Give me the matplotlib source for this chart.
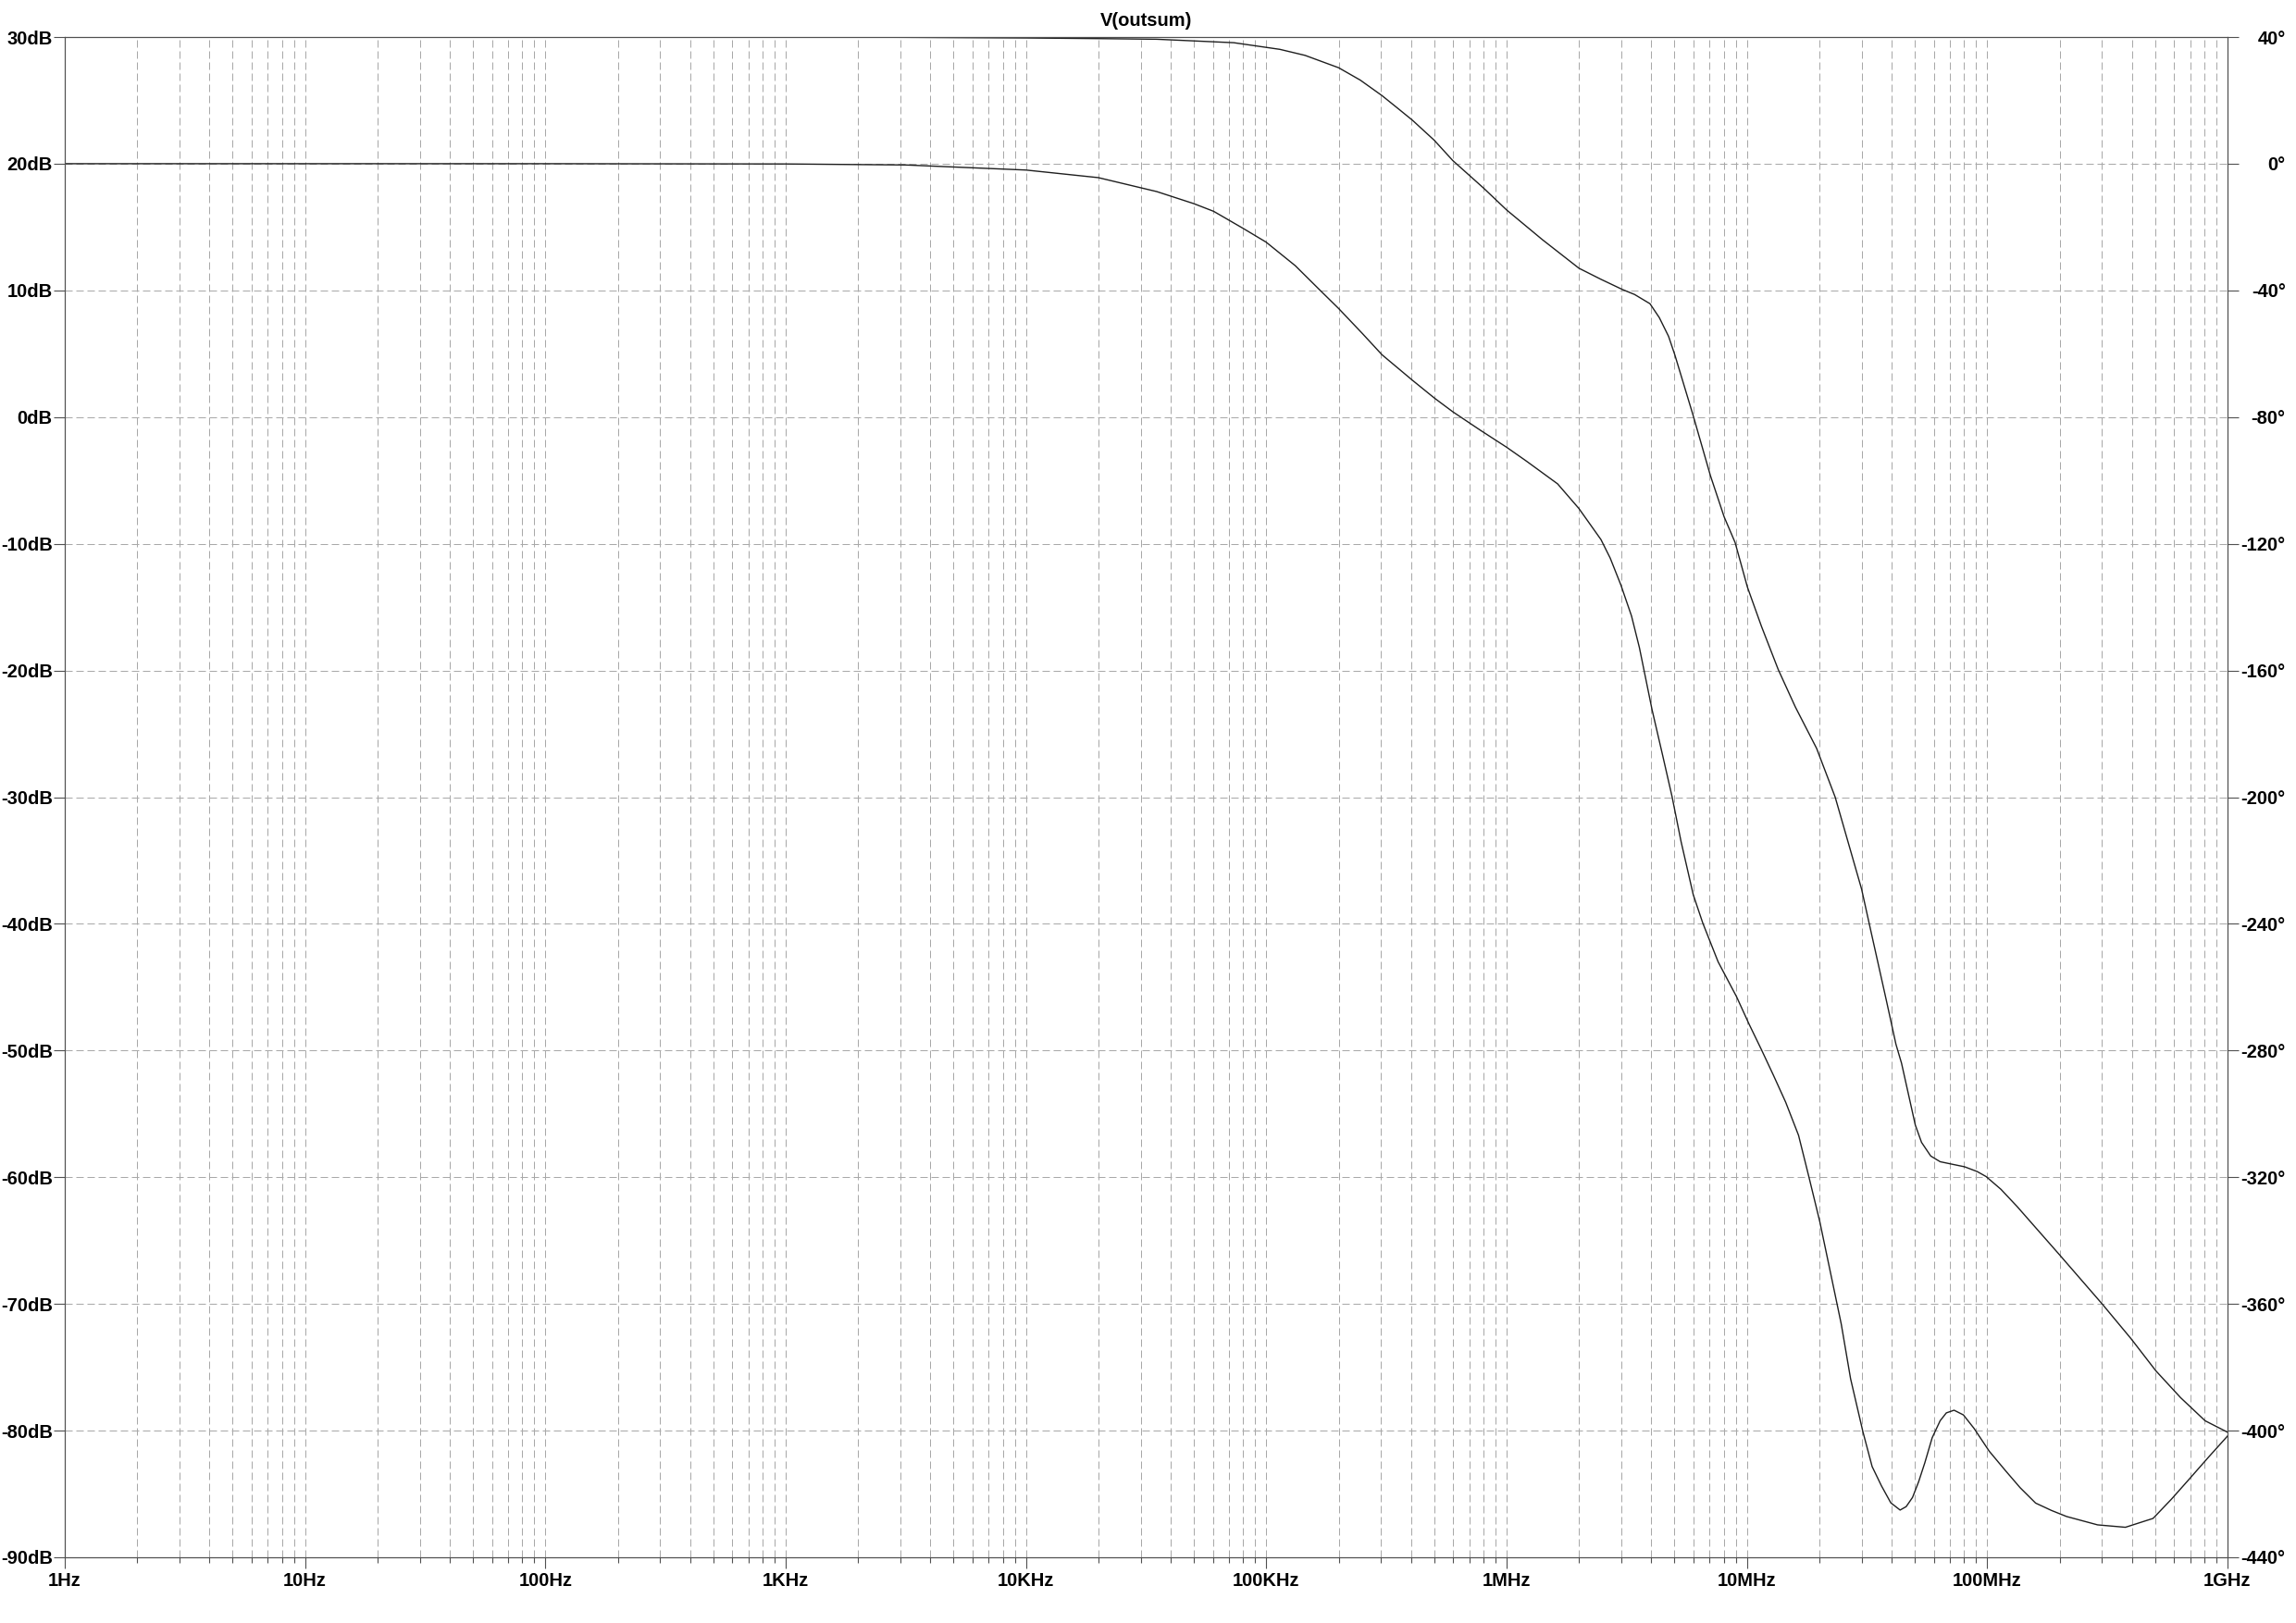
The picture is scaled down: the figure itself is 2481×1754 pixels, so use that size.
# LTspice style Bode plot of V(outsum)

import numpy as np
import matplotlib.pyplot as plt
from matplotlib.ticker import FixedLocator, NullFormatter

# ---------------- data ----------------
mag_freq = [1, 10, 100, 1e3, 3.16e3, 10e3, 20e3,
            35e3, 49.9e3, 60.4e3, 80e3, 99.8e3,
            132e3, 167e3, 200e3, 251e3, 303e3,
            406e3, 500e3, 597e3, 778e3, 1e6,
            1.21e6, 1.63e6, 2e6, 2.47e6, 2.7e6,
            2.99e6, 3.31e6, 3.57e6, 4.03e6, 4.46e6,
            4.88e6, 5.32e6, 5.98e6, 6.55e6, 7.59e6,
            9.06e6, 10.2e6, 11.5e6, 12.9e6, 14.5e6,
            16.4e6, 18.1e6, 20.1e6, 23.3e6, 24.7e6,
            27e6, 30.4e6, 33.2e6, 36.3e6, 39.7e6,
            43.4e6, 46e6, 48.9e6, 51.8e6, 55e6,
            59e6, 63.7e6, 67.6e6, 72.8e6, 79.6e6,
            88.1e6, 102e6, 119e6, 137e6, 159e6,
            185e6, 214e6, 288e6, 376e6, 490e6,
            585e6, 698e6, 834e6, 1e9]
mag_db = [20.0, 20.0, 20.0, 19.98, 19.9, 19.5, 18.9,
          17.8, 16.85, 16.24, 14.9, 13.81,
          11.95, 10.03, 8.57, 6.6, 4.92,
          2.9, 1.51, 0.42, -1.04, -2.38,
          -3.48, -5.27, -7.22, -9.67, -11.14,
          -13.26, -15.7, -18.2, -23.1, -26.7,
          -29.95, -33.5, -37.7, -39.93, -43.0,
          -45.76, -47.9, -49.94, -51.96, -54.08,
          -56.69, -59.95, -63.5, -69.3, -71.6,
          -75.9, -80.1, -82.84, -84.36, -85.7,
          -86.27, -86.0, -85.27, -84.05, -82.54,
          -80.57, -79.22, -78.6, -78.39, -78.76,
          -79.82, -81.63, -83.15, -84.5, -85.72,
          -86.3, -86.78, -87.44, -87.63, -86.93,
          -85.4, -83.76, -82.09, -80.43]

ph_freq = [1, 10, 100, 1e3, 3.16e3, 10e3, 20e3, 35e3,
           73.3e3, 114e3, 145e3, 200e3, 246e3,
           303e3, 351e3, 406e3, 500e3, 597e3,
           802e3, 1e6, 1.41e6, 2e6, 2.47e6,
           3.03e6, 3.41e6, 3.95e6, 4.32e6, 4.72e6,
           5.01e6, 5.98e6, 7.05e6, 8.04e6, 8.93e6,
           10.05e6, 11.5e6, 13.5e6, 15.9e6, 19.5e6,
           23.3e6, 30e6, 32.3e6, 38e6, 41.7e6,
           44e6, 50.2e6, 53.3e6, 58.2e6, 63.7e6,
           69.5e6, 80.5e6, 90.8e6, 99e6, 114e6,
           133e6, 200e6, 300e6, 397e6, 503e6,
           638e6, 807e6, 1e9]
ph_deg = [40.0, 40.0, 40.0, 40.0, 39.9, 39.7, 39.5, 39.3,
          38.2, 36.1, 34.2, 30.3, 26.4,
          21.5, 17.6, 13.7, 7.4, 1.0,
          -7.7, -14.6, -24.0, -33.0, -36.5,
          -39.7, -41.3, -44.2, -48.6, -54.5,
          -60.3, -79.6, -98.5, -111.5, -119.6,
          -133.7, -146.1, -159.7, -171.5, -184.6,
          -200.0, -229.0, -240.0, -264.0, -278.0,
          -284.0, -303.5, -309.0, -313.3, -315.1,
          -315.7, -316.7, -318.2, -319.8, -323.8,
          -329.2, -344.5, -359.9, -371.0, -381.1,
          -389.6, -396.9, -400.5]

x_ticks = [1, 10, 100, 1e3, 1e4, 1e5, 1e6, 1e7, 1e8, 1e9]
x_labels = ['1Hz', '10Hz', '100Hz', '1KHz', '10KHz', '100KHz', '1MHz', '10MHz', '100MHz', '1GHz']
db_ticks = list(range(30, -91, -10))
db_labels = ['%ddB' % v for v in db_ticks]
deg_ticks = list(range(40, -441, -40))
deg_labels = ['%d\u00b0' % v for v in deg_ticks]

# ---------------- figure ----------------
plt.rcParams['font.family'] = ['Liberation Sans', 'DejaVu Sans']
plt.rcParams['font.weight'] = 'bold'

fig = plt.figure(figsize=(24.81, 17.54), dpi=100)
ax = fig.add_axes([70 / 2481, 71 / 1754, 2337 / 2481, 1643 / 1754])
ax2 = ax.twinx()

line_c = '#1e1e1e'
grid_c = '#a8a8a8'
frame_c = '#505050'

ax.plot(mag_freq, mag_db, color=line_c, lw=1.0)
ax2.plot(ph_freq, ph_deg, color=line_c, lw=1.0)

ax.set_xscale('log')
ax.set_xlim(1, 1e9)
ax.set_ylim(-90, 30)
ax2.set_ylim(-440, 40)

ax.xaxis.set_major_locator(FixedLocator(x_ticks))
ax.set_xticklabels(x_labels)
minor = [m * 10 ** d for d in range(9) for m in range(2, 10)]
ax.xaxis.set_minor_locator(FixedLocator(minor))
ax.xaxis.set_minor_formatter(NullFormatter())

ax.set_yticks(db_ticks)
ax.set_yticklabels(db_labels)
ax2.set_yticks(deg_ticks)
ax2.set_yticklabels(deg_labels, ha='right')

dash = (0, (8, 4))
ax.grid(True, which='both', axis='x', color=grid_c, lw=0.72, linestyle=dash)
ax.grid(True, which='major', axis='y', color=grid_c, lw=0.72, linestyle=dash)
ax.set_axisbelow(True)

ax.tick_params(axis='x', which='major', direction='out', length=8.6, width=0.8,
               color=frame_c, labelsize=14.5, pad=3)
ax.tick_params(axis='x', which='minor', direction='out', length=4.3, width=0.8,
               color=frame_c)
ax.tick_params(axis='y', direction='out', length=8.6, width=0.8, color=frame_c,
               labelsize=14.5, pad=1)
ax2.tick_params(axis='y', direction='out', length=8.6, width=0.8, color=frame_c,
                labelsize=14.5, pad=36.5)

for a in (ax, ax2):
    for s in a.spines.values():
        s.set_color(frame_c)
        s.set_linewidth(0.8)

ax.set_title('V(outsum)', fontsize=14.5, fontweight='bold', pad=9)

fig.savefig('out.png', dpi=100, facecolor='white')
